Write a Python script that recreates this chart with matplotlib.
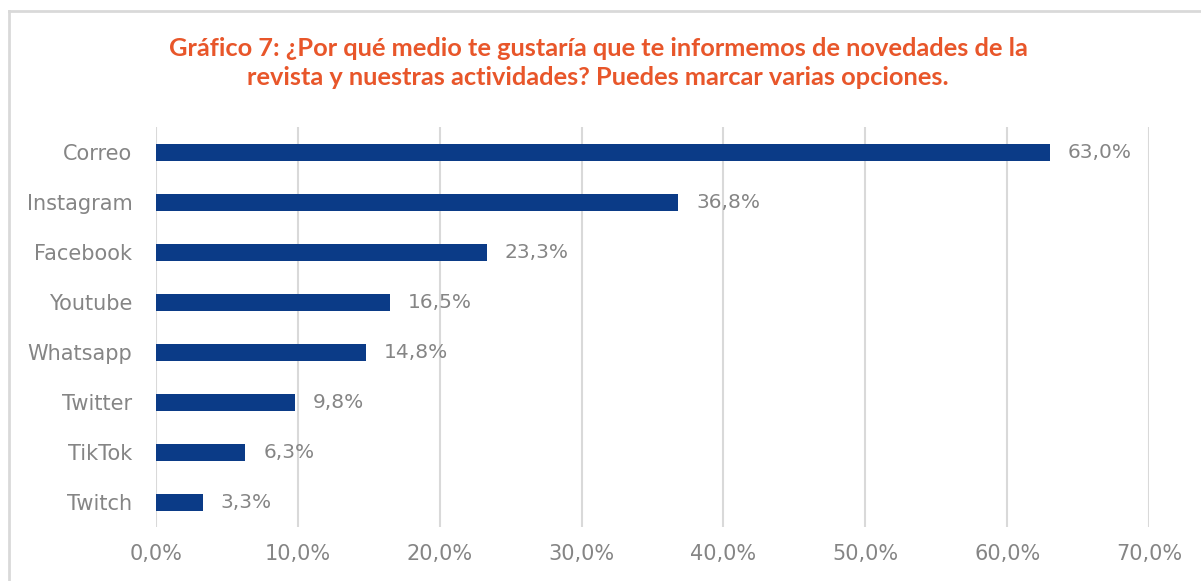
import matplotlib
matplotlib.use("Agg")
import matplotlib.pyplot as plt
from matplotlib.lines import Line2D

categories = ["Correo", "Instagram", "Facebook", "Youtube", "Whatsapp", "Twitter", "TikTok", "Twitch"]
values = [63.0, 36.8, 23.3, 16.5, 14.8, 9.8, 6.3, 3.3]
xticks = [0, 10, 20, 30, 40, 50, 60, 70]
title = "Gráfico 7: ¿Por qué medio te gustaría que te informemos de novedades de la\nrevista y nuestras actividades? Puedes marcar varias opciones."

BAR = "#0B3B87"
GRAY = "#858585"
GRID = "#D9D9D9"
TITLE_C = "#E8562A"
TICKFONT = "DejaVu Sans"

fig = plt.figure(figsize=(12.01, 5.81), dpi=100)
W, H = 1201, 581
ax = fig.add_axes([156 / W, 1 - 527 / H, (1149 - 156) / W, 400 / H])

y = list(range(len(categories)))
ax.barh(y, values, height=0.34, color=BAR, zorder=3)
ax.set_ylim(len(categories) - 0.5, -0.5)
ax.set_xlim(0, 70)
ax.set_xticks(xticks)
ax.set_xticklabels([f"{t:.1f}%".replace(".", ",") for t in xticks])
ax.set_yticks(y)
ax.set_yticklabels(categories)
ax.grid(axis="x", color=GRID, linewidth=1.5, zorder=0)
for s in ax.spines.values():
    s.set_visible(False)
ax.tick_params(axis="both", length=0, colors=GRAY, labelsize=15)
ax.tick_params(axis="y", pad=17)
ax.tick_params(axis="x", pad=12)
for lab in ax.get_xticklabels() + ax.get_yticklabels():
    lab.set_fontfamily(TICKFONT)
    lab.set_color(GRAY)

for yi, v in zip(y, values):
    ax.annotate(f"{v:.1f}%".replace(".", ","), (v, yi), xytext=(13, 0), textcoords="offset points",
                va="center", ha="left", fontsize=14.5, color=GRAY, family=TICKFONT)

fig.text(598 / W, 1 - 63 / H, title, ha="center", va="center", fontsize=18.3, fontweight="bold",
         color=TITLE_C, family="Lato", linespacing=1.3)

fig.add_artist(Line2D([9 / W, 9 / W], [0, 1 - 11 / H], transform=fig.transFigure, color="#D9D9D9", lw=2))
fig.add_artist(Line2D([9 / W, 1], [1 - 11 / H, 1 - 11 / H], transform=fig.transFigure, color="#D9D9D9", lw=2))

fig.savefig("out.png", dpi=100)
